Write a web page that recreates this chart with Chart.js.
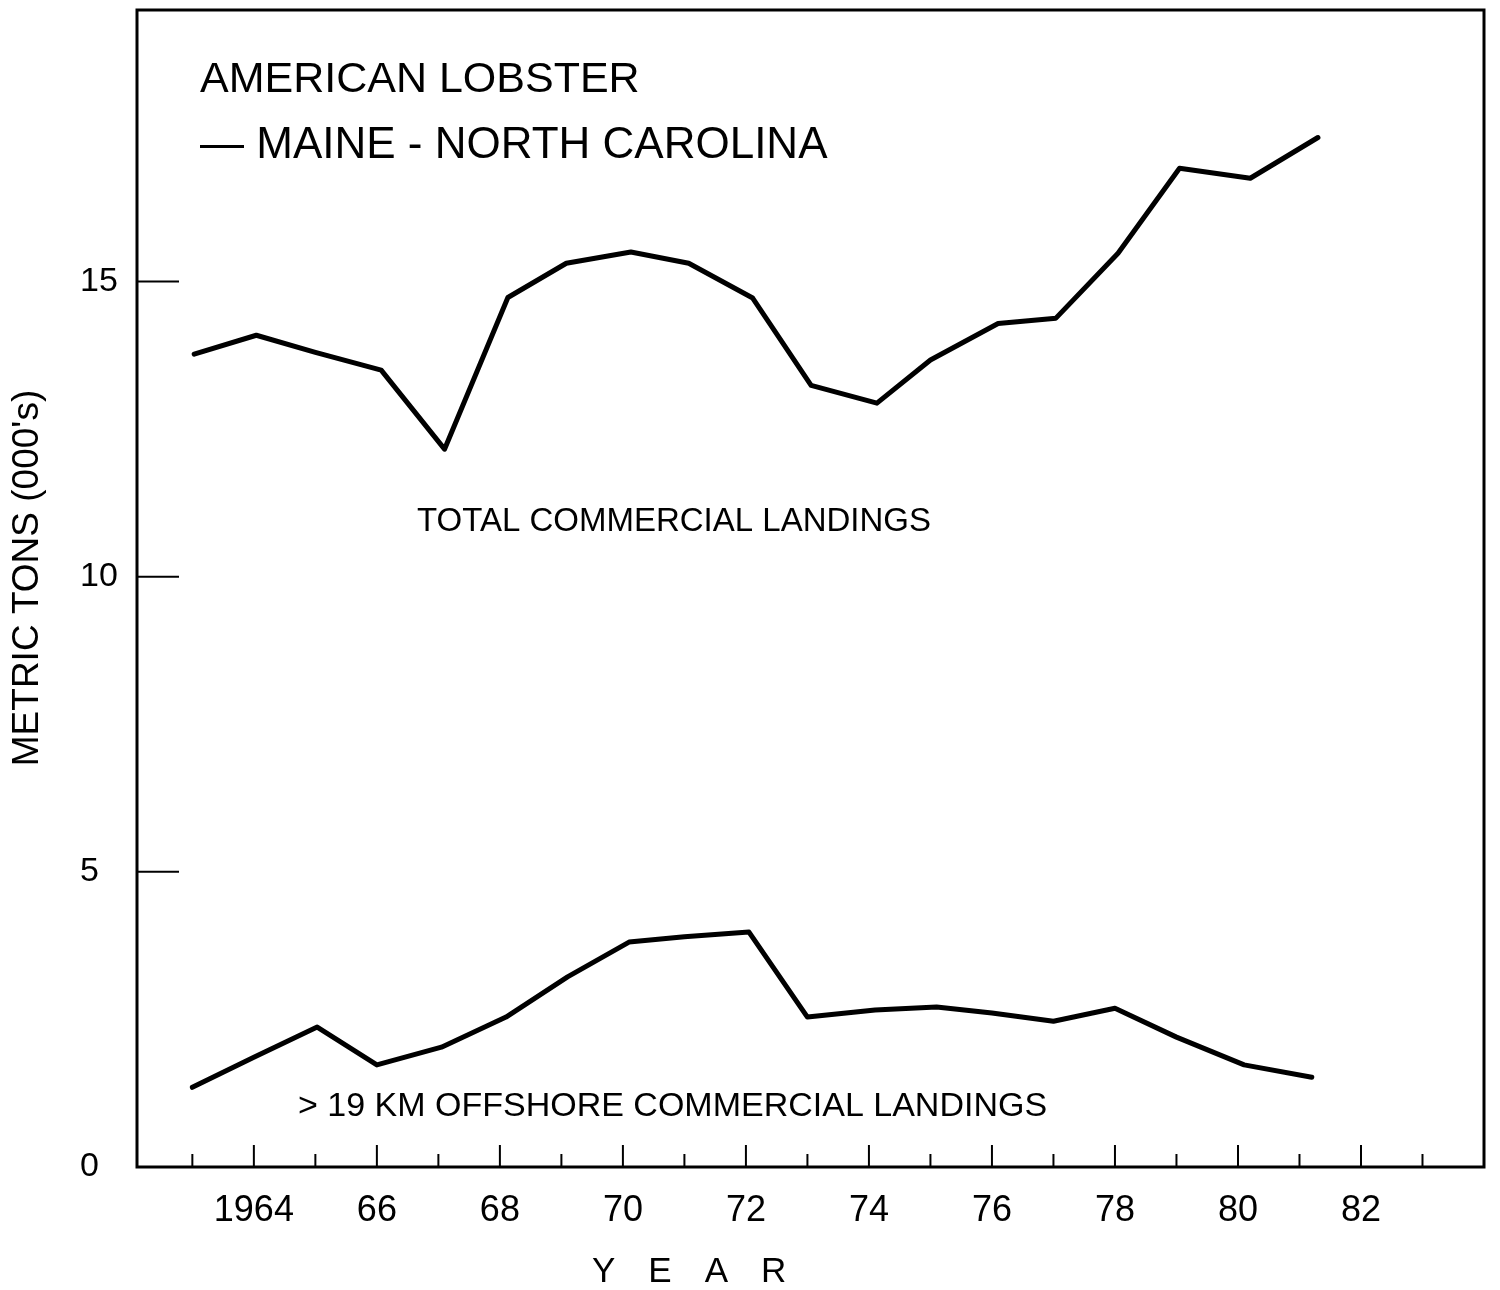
<!DOCTYPE html>
<html>
<head>
<meta charset="utf-8">
<script src="https://cdn.jsdelivr.net/npm/chart.js@4.4.1/dist/chart.umd.min.js"></script>
<style>
  html, body { margin: 0; padding: 0; background: #ffffff; }
  #wrap { width: 1500px; height: 1290px; position: relative; }
  canvas { display: block; }
</style>
</head>
<body>
<div id="wrap"><canvas id="c" width="1500" height="1290"></canvas></div>
<script>
// ---- data ----
const totalYears = [1963.03, 1964.04, 1965.0, 1966.07, 1967.1, 1968.13, 1969.08, 1970.13, 1971.07, 1972.11, 1973.06, 1974.13, 1975.0, 1976.1, 1977.04, 1978.05, 1979.05, 1980.2, 1981.3];
const totalTons  = [13.77, 14.09, 13.8, 13.5, 12.16, 14.73, 15.31, 15.5, 15.31, 14.72, 13.24, 12.94, 13.67, 14.29, 14.38, 15.48, 16.92, 16.75, 17.44];

const offshoreYears = [1963.0, 1964.0, 1965.03, 1966.0, 1967.05, 1968.1, 1969.1, 1970.1, 1971.0, 1972.05, 1973.0, 1974.1, 1975.1, 1976.0, 1977.0, 1978.0, 1979.0, 1980.1, 1981.2];
const offshoreTons  = [1.35, 1.86, 2.37, 1.73, 2.03, 2.54, 3.22, 3.81, 3.9, 3.98, 2.54, 2.66, 2.71, 2.61, 2.47, 2.69, 2.2, 1.73, 1.52];

const xTickYears  = [1963, 1964, 1965, 1966, 1967, 1968, 1969, 1970, 1971, 1972, 1973, 1974, 1975, 1976, 1977, 1978, 1979, 1980, 1981, 1982, 1983];
const xTickLabels = ['', '1964', '', '66', '', '68', '', '70', '', '72', '', '74', '', '76', '', '78', '', '80', '', '82', ''];
const yTickValues = [0, 5, 10, 15];
const yTickLabels = ['0', '5', '10', '15'];

const chartTitle   = ['AMERICAN LOBSTER', '\u2014 MAINE - NORTH CAROLINA'];
const seriesLabels = ['TOTAL COMMERCIAL LANDINGS', '> 19 KM OFFSHORE COMMERCIAL LANDINGS'];
const yAxisTitle   = "METRIC TONS (000's)";
const xAxisTitle   = 'YEAR';

// ---- rendering ----
const FONT = '"Liberation Sans", Arial, Helvetica, sans-serif';
Chart.defaults.font.family = FONT;
Chart.defaults.color = '#000';

const framePlugin = {
  id: 'frameAndTicks',
  beforeDatasetsDraw(chart) {
    const { ctx, chartArea: a, scales: { x, y } } = chart;
    ctx.save();
    ctx.strokeStyle = '#000';
    ctx.lineCap = 'butt';
    ctx.lineWidth = 2;
    xTickYears.forEach((yr) => {
      const px = x.getPixelForValue(yr);
      const len = yr % 2 === 0 ? 22 : 13;
      ctx.beginPath();
      ctx.moveTo(px, a.bottom);
      ctx.lineTo(px, a.bottom - len);
      ctx.stroke();
    });
    yTickValues.filter(v => v > 0).forEach((v) => {
      const py = y.getPixelForValue(v);
      ctx.beginPath();
      ctx.moveTo(a.left, py);
      ctx.lineTo(a.left + 42, py);
      ctx.stroke();
    });
    ctx.lineWidth = 3;
    ctx.strokeRect(a.left, a.top, a.right - a.left, a.bottom - a.top);
    ctx.restore();
  }
};

const textPlugin = {
  id: 'texts',
  afterDraw(chart) {
    const { ctx } = chart;
    ctx.save();
    ctx.fillStyle = '#000';
    ctx.textBaseline = 'middle';
    ctx.textAlign = 'left';
    ctx.font = '43px ' + FONT;
    ctx.fillText(chartTitle[0], 200, 80);
    ctx.font = '44px ' + FONT;
    ctx.fillText(chartTitle[1], 200, 146);
    ctx.font = '33px ' + FONT;
    ctx.fillText(seriesLabels[0], 417, 522);
    ctx.font = '34px ' + FONT;
    ctx.fillText(seriesLabels[1], 298, 1107);

    ctx.save();
    ctx.translate(28, 578);
    ctx.rotate(-Math.PI / 2);
    ctx.textAlign = 'center';
    ctx.font = '37px ' + FONT;
    ctx.fillText(yAxisTitle, 0, 0);
    ctx.restore();

    ctx.font = '35px ' + FONT;
    if ('letterSpacing' in ctx) {
      ctx.letterSpacing = '33px';
      ctx.fillText(xAxisTitle, 592, 1272);
    } else {
      ctx.fillText(xAxisTitle.split('').join('    '), 592, 1272);
    }
    ctx.restore();
  }
};

new Chart(document.getElementById('c'), {
  type: 'line',
  data: {
    datasets: [
      {
        label: seriesLabels[0],
        data: totalYears.map((yr, i) => ({ x: yr, y: totalTons[i] })),
        borderColor: '#000',
        borderWidth: 5,
        pointRadius: 0,
        tension: 0,
        borderJoinStyle: 'round',
        borderCapStyle: 'round',
        fill: false
      },
      {
        label: seriesLabels[1],
        data: offshoreYears.map((yr, i) => ({ x: yr, y: offshoreTons[i] })),
        borderColor: '#000',
        borderWidth: 5,
        pointRadius: 0,
        tension: 0,
        borderJoinStyle: 'round',
        borderCapStyle: 'round',
        fill: false
      }
    ]
  },
  options: {
    responsive: false,
    animation: false,
    devicePixelRatio: 1,
    layout: { padding: { left: 80, top: 10, right: 16, bottom: 0 } },
    plugins: {
      legend: { display: false },
      tooltip: { enabled: false },
      title: { display: false }
    },
    scales: {
      x: {
        type: 'linear',
        min: 1962.1,
        max: 1984.0,
        afterBuildTicks: (s) => { s.ticks = xTickYears.map(v => ({ value: v })); },
        afterFit: (s) => { s.height = 123; },
        grid: { display: false },
        border: { display: false },
        ticks: {
          autoSkip: false,
          maxRotation: 0,
          minRotation: 0,
          padding: 14,
          color: '#000',
          font: { size: 36 },
          callback: (v, i) => xTickLabels[i]
        }
      },
      y: {
        type: 'linear',
        min: 0,
        max: 19.6,
        afterBuildTicks: (s) => { s.ticks = yTickValues.map(v => ({ value: v })); },
        afterFit: (s) => { s.width = 57; },
        grid: { display: false },
        border: { display: false },
        ticks: {
          crossAlign: 'far',
          padding: 0,
          color: '#000',
          font: { size: 34, lineHeight: 0.5 },
          callback: (v, i) => yTickLabels[i]
        }
      }
    }
  },
  plugins: [framePlugin, textPlugin]
});
</script>
</body>
</html>
